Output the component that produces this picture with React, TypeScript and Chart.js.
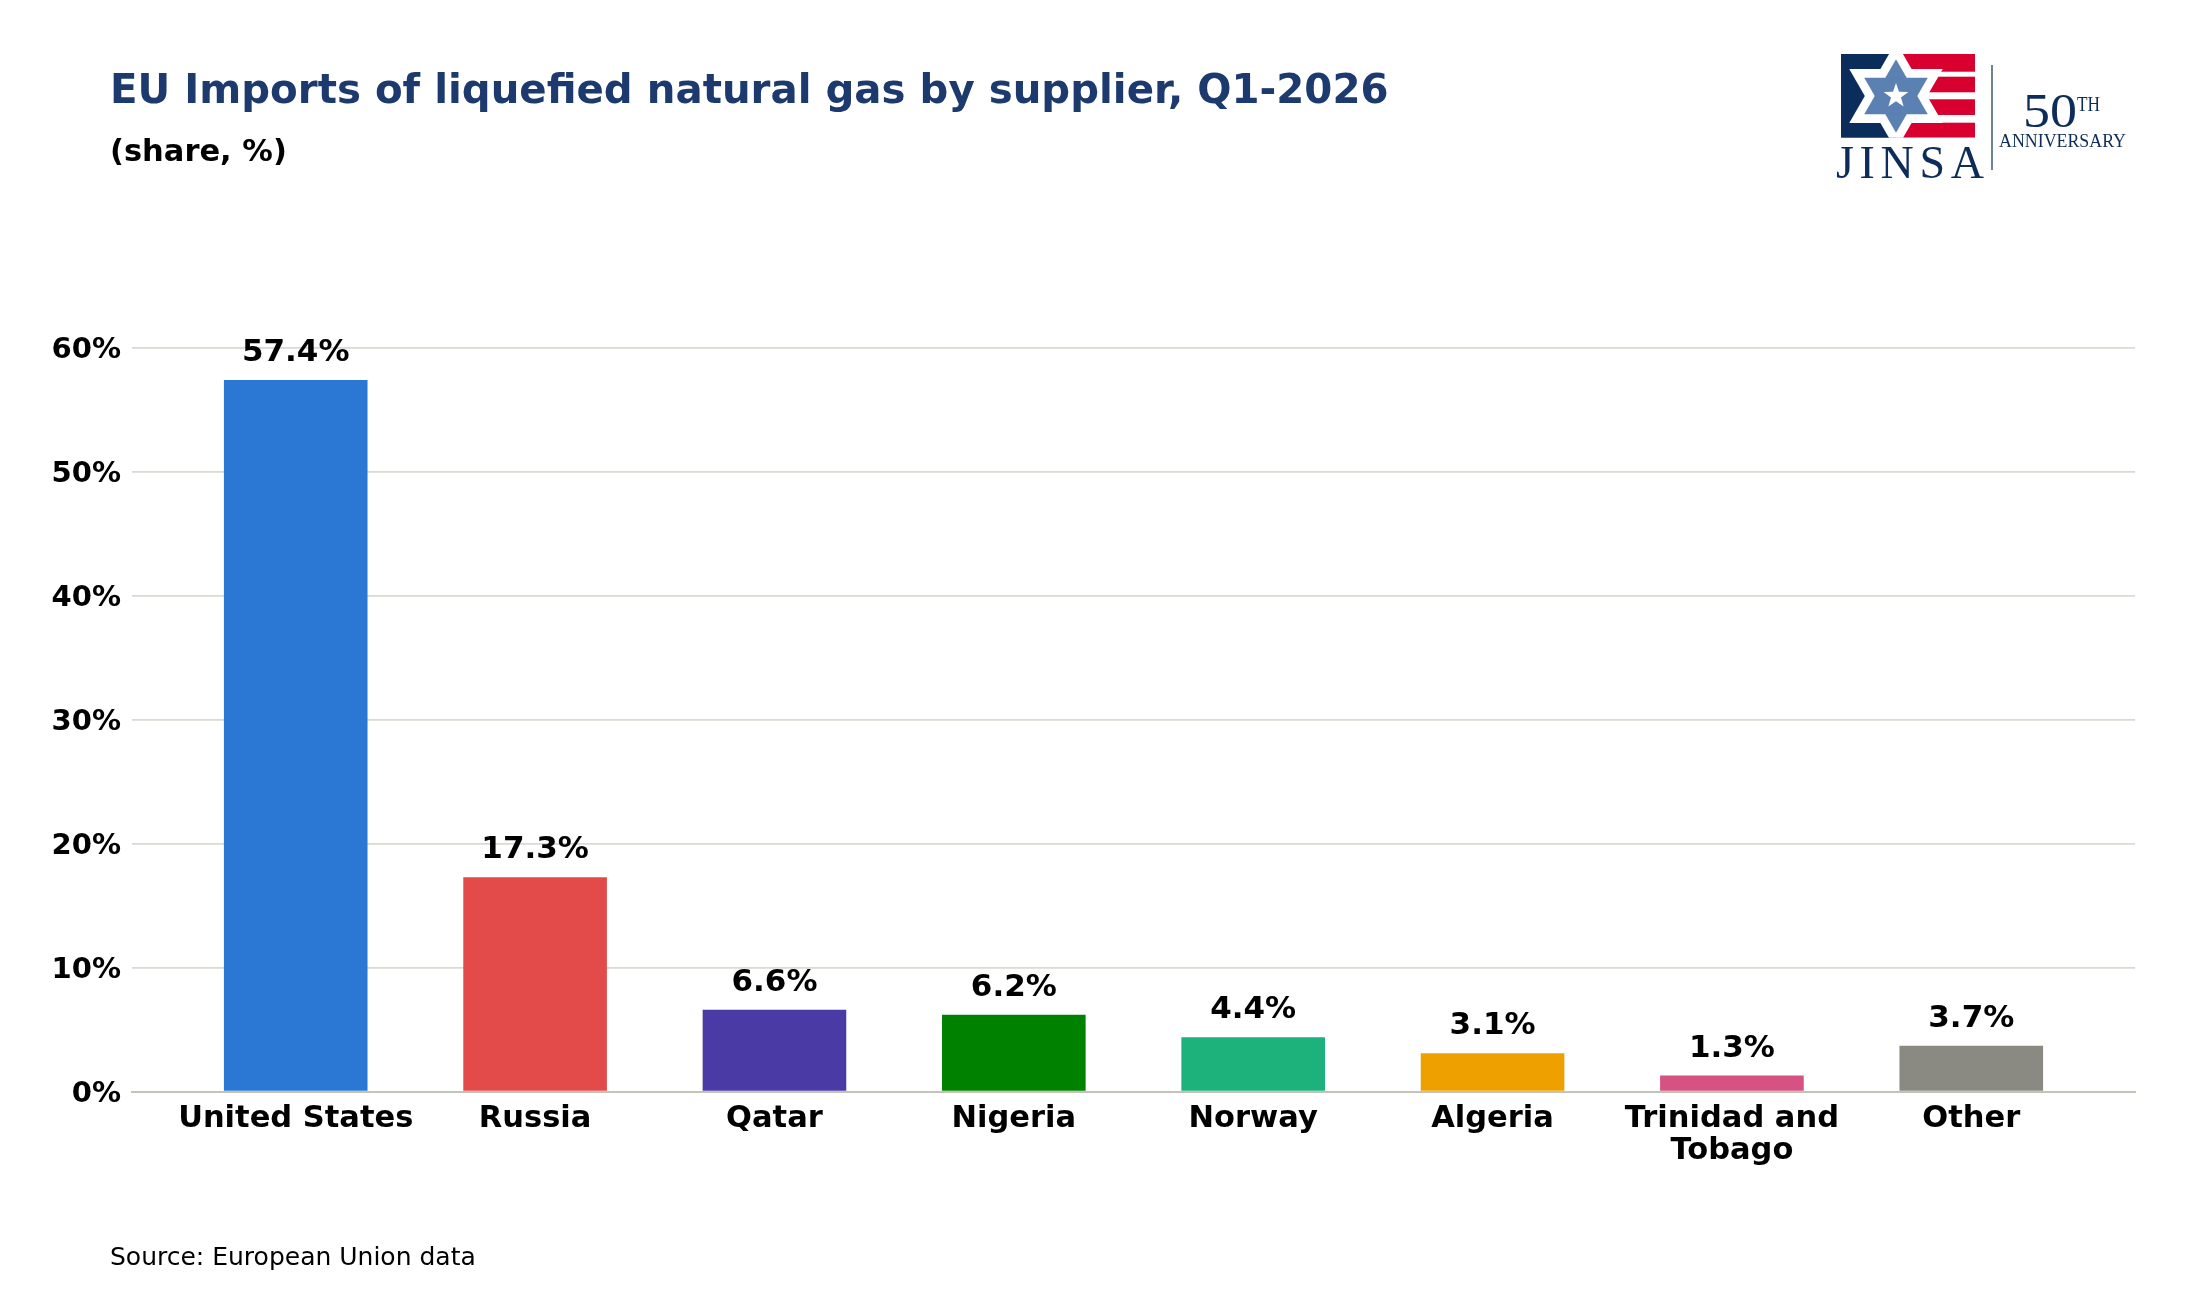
import React, { useEffect, useRef } from "react";
import { Chart, registerables } from "chart.js";

Chart.register(...registerables);

const categories = [
  "United States",
  "Russia",
  "Qatar",
  "Nigeria",
  "Norway",
  "Algeria",
  "Trinidad and Tobago",
  "Other",
];
const categoryLines: string[][] = [
  ["United States"],
  ["Russia"],
  ["Qatar"],
  ["Nigeria"],
  ["Norway"],
  ["Algeria"],
  ["Trinidad and", "Tobago"],
  ["Other"],
];
const shares = [57.4, 17.3, 6.6, 6.2, 4.4, 3.1, 1.3, 3.7];
const barColors = [
  "#2a78d4",
  "#e34a4a",
  "#4a3aa5",
  "#008200",
  "#1db17b",
  "#eea001",
  "#d65282",
  "#8a8a82",
];
const yTicks = [0, 10, 20, 30, 40, 50, 60];

const FONT = "'DejaVu Sans', 'Liberation Sans', sans-serif";
const SERIF = "'Liberation Serif', 'DejaVu Serif', serif";
const NAVY = "#0d2c5a";

const valueLabels = {
  id: "valueLabels",
  afterDatasetsDraw(chart: any) {
    const ctx = chart.ctx;
    const meta = chart.getDatasetMeta(0);
    ctx.save();
    ctx.font = `bold 31px ${FONT}`;
    ctx.fillStyle = "#000";
    ctx.textAlign = "center";
    ctx.textBaseline = "alphabetic";
    meta.data.forEach((el: any, i: number) => {
      ctx.fillText(shares[i].toFixed(1) + "%", el.x, el.y - 19);
    });
    ctx.restore();
  },
};

function hexagram(cx: number, cy: number, r: number) {
  const tri = (start: number) =>
    [0, 1, 2]
      .map((k) => {
        const a = ((start + k * 120) * Math.PI) / 180;
        return `${cx + r * Math.cos(a)},${cy - r * Math.sin(a)}`;
      })
      .join(" ");
  return [tri(90), tri(270)];
}

function star5(cx: number, cy: number, R: number, r: number) {
  const pts: string[] = [];
  for (let k = 0; k < 10; k++) {
    const rad = k % 2 === 0 ? R : r;
    const a = ((90 + k * 36) * Math.PI) / 180;
    pts.push(`${cx + rad * Math.cos(a)},${cy - rad * Math.sin(a)}`);
  }
  return pts.join(" ");
}

function Logo() {
  const cx = 1896;
  const cy = 96;
  const white = hexagram(cx, cy, 54);
  const blue = hexagram(cx, cy, 36.7);
  const stripes = [
    [54, 71.7],
    [76.7, 92.3],
    [99.3, 115],
    [122.7, 137.7],
  ];
  return (
    <g>
      <defs>
        <clipPath id="flagClip">
          <rect x={1841} y={54} width={134} height={83.7} />
        </clipPath>
      </defs>
      <g clipPath="url(#flagClip)">
        <rect x={1841} y={54} width={134} height={84} fill="#ffffff" />
        <rect x={1841} y={54} width={cx - 1841} height={84} fill="#0b2d5c" />
        {stripes.map(([a, b], i) => (
          <rect key={i} x={cx} y={a} width={1975 - cx} height={b - a} fill="#d8002f" />
        ))}
        {white.map((p, i) => (
          <polygon key={"w" + i} points={p} fill="#ffffff" />
        ))}
        {blue.map((p, i) => (
          <polygon key={"b" + i} points={p} fill="#5b80b2" />
        ))}
        <polygon points={star5(cx, cy, 13, 5.2)} fill="#ffffff" />
      </g>
      <text
        x={1836}
        y={178}
        fontFamily={SERIF}
        fontSize={46}
        fill={NAVY}
        textLength={148}
        lengthAdjust="spacing"
      >
        JINSA
      </text>
      <line x1={1992} y1={65} x2={1992} y2={170} stroke={NAVY} strokeWidth={1.2} />
      <text
        x={2023}
        y={127}
        fontFamily={SERIF}
        fontSize={48}
        fill={NAVY}
        textLength={54}
        lengthAdjust="spacingAndGlyphs"
      >
        50
      </text>
      <text
        x={2077}
        y={111}
        fontFamily={SERIF}
        fontSize={21}
        fill={NAVY}
        textLength={23}
        lengthAdjust="spacingAndGlyphs"
      >
        TH
      </text>
      <text
        x={1999}
        y={147}
        fontFamily={SERIF}
        fontSize={18}
        fill={NAVY}
        textLength={127}
        lengthAdjust="spacingAndGlyphs"
      >
        ANNIVERSARY
      </text>
    </g>
  );
}

export default function App() {
  const canvasRef = useRef<HTMLCanvasElement | null>(null);

  useEffect(() => {
    if (!canvasRef.current) return;
    const chart = new Chart(canvasRef.current, {
      type: "bar",
      data: {
        datasets: [
          {
            label: "Share",
            data: shares.map((v, i) => ({ x: i, y: v })),
            backgroundColor: barColors,
            borderWidth: 0,
            categoryPercentage: 1,
            barPercentage: 0.6,
          },
        ],
      },
      options: {
        animation: false,
        responsive: false,
        devicePixelRatio: 1,
        layout: { padding: { top: 147.7, right: 65, bottom: 0, left: 0 } },
        plugins: {
          legend: { display: false },
          tooltip: { enabled: false },
          title: { display: false },
        },
        scales: {
          x: {
            type: "linear",
            offset: false,
            min: -0.684,
            max: 7.684,
            afterBuildTicks: (s: any) => {
              s.ticks = categories.map((_, i) => ({ value: i }));
            },
            afterFit: (s: any) => {
              s.height = 108.3;
            },
            grid: { display: false, drawTicks: false, offset: false },
            border: { display: true, color: "#c3c3b8", width: 2 },
            ticks: {
              autoSkip: false,
              maxRotation: 0,
              minRotation: 0,
              padding: 11,
              color: "#000",
              font: { family: FONT, size: 30.5, weight: "bold", lineHeight: 1.05 },
              callback: (value: any) => categoryLines[Math.round(Number(value))] ?? "",
            },
          },
          y: {
            min: 0,
            max: 60,
            afterBuildTicks: (s: any) => {
              s.ticks = yTicks.map((v) => ({ value: v }));
            },
            afterFit: (s: any) => {
              s.width = 132;
            },
            grid: {
              drawTicks: false,
              lineWidth: 1.7,
              color: (c: any) => (c.tick && c.tick.value === 0 ? "rgba(0,0,0,0)" : "#dadad2"),
            },
            border: { display: false },
            ticks: {
              padding: 11,
              labelOffset: 2.5,
              color: "#000",
              font: { family: FONT, size: 29, weight: "bold" },
              callback: (value: any) => value + "%",
            },
          },
        },
      },
      plugins: [valueLabels],
    } as any);
    return () => chart.destroy();
  }, []);

  return (
    <div
      style={{
        position: "absolute",
        left: 0,
        top: 0,
        width: 2200,
        height: 1300,
        background: "#ffffff",
        overflow: "hidden",
      }}
    >
      <canvas
        ref={canvasRef}
        width={2200}
        height={1000}
        style={{ position: "absolute", left: 0, top: 200, width: 2200, height: 1000 }}
      />
      <svg
        width={2200}
        height={1300}
        style={{ position: "absolute", left: 0, top: 0, pointerEvents: "none" }}
      >
        <text x={110} y={103.3} fontFamily={FONT} fontWeight="bold" fontSize={40.3} fill="#1c3a6e">
          EU Imports of liquefied natural gas by supplier, Q1-2026
        </text>
        <text x={110} y={160.5} fontFamily={FONT} fontWeight="bold" fontSize={30.5} fill="#000">
          (share, %)
        </text>
        <text x={110} y={1264.5} fontFamily={FONT} fontSize={25} fill="#000">
          Source: European Union data
        </text>
        <Logo />
      </svg>
    </div>
  );
}
